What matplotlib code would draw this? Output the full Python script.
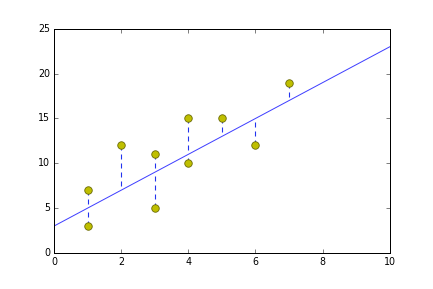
import matplotlib
matplotlib.use("Agg")
import matplotlib.pyplot as plt

plt.style.use("classic")

x = [1, 1, 2, 3, 3, 4, 4, 5, 6, 7]
y = [7, 3, 12, 11, 5, 15, 10, 15, 12, 19]
intercept = 3
slope = 2
line_x = [0, 10]

fig = plt.figure(figsize=(6.014, 4.014), dpi=72)
ax = fig.add_axes([0.125, 0.125, 0.775, 0.775])

line_y = [intercept + slope * v for v in line_x]
ax.plot(line_x, line_y, color="b", alpha=0.75, lw=1)

for xi, yi in zip(x, y):
    fit = intercept + slope * xi
    ax.plot([xi, xi], [yi, fit], "--", color="#2233ee", lw=1.1, dashes=(5, 4))

ax.plot(x, y, "o", color="y", markersize=7.5, markeredgecolor="#666600", markeredgewidth=0.8)

ax.set_xlim(0, 10)
ax.set_ylim(0, 25)
ax.tick_params(labelsize=9.5)

fig.savefig("out.png", dpi=72)
